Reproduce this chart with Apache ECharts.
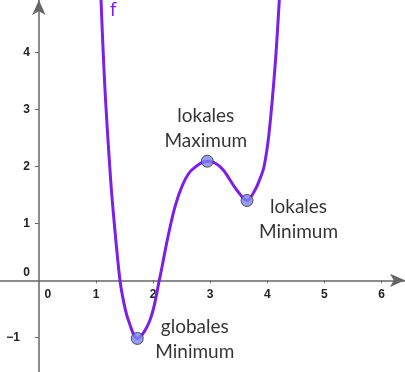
<!DOCTYPE html>
<html>
<head>
<meta charset="utf-8">
<style>html,body{margin:0;padding:0;background:#fff;}#c{width:405px;height:372px;}</style>
<script src="https://cdn.jsdelivr.net/npm/echarts@6/dist/echarts.min.js"></script>
</head>
<body>
<div id="c"></div>
<script>
// Curve f
const curveX = [1.088, 1.158, 1.257, 1.315, 1.420, 1.490, 1.566, 1.723, 1.946, 2.109, 2.249, 2.384, 2.529, 2.676, 2.949, 3.084, 3.229, 3.464, 3.645, 3.785, 3.863, 3.942, 4.030, 4.135, 4.210];
const curveY = [4.918, 3.339, 1.760, 1.058, 0.000, -0.404, -0.696, -1.020, -0.696, 0.000, 0.707, 1.291, 1.702, 1.935, 2.090, 2.058, 1.935, 1.584, 1.400, 1.584, 1.760, 1.993, 2.579, 3.747, 4.918];
// Extrema points
const pointNames = ['globales\nMinimum', 'lokales\nMaximum', 'lokales\nMinimum'];
const pointX = [1.723, 2.949, 3.645];
const pointY = [-1.020, 2.090, 1.400];
// Tick labels
const xTicks = [0, 1, 2, 3, 4, 5, 6];
const yTicks = [-1, 0, 1, 2, 3, 4];
const curveName = 'f';

const W = 405, H = 372;
const xMin = -0.681, xMax = 6.411, yMin = -1.609, yMax = 4.918;
const xAxisOffset = -(0 - yMin) / (yMax - yMin) * H;
const yAxisOffset = -(0 - xMin) / (xMax - xMin) * W;

const chart = echarts.init(document.getElementById('c'));
const purple = '#7d1fe6';
const axisColor = '#666';
const labelFont = {fontFamily: 'Liberation Sans', fontSize: 12, fontWeight: 'bold', color: '#222'};

const labelPos = [
  {position: [64, 7]},
  {position: [5, -26]},
  {position: [58, 25]}
];

chart.setOption({
  animation: false,
  grid: {left: 0, right: 0, top: 0, bottom: 0, containLabel: false, outerBoundsMode: 'none'},
  xAxis: {
    type: 'value', min: xMin, max: xMax, position: 'bottom', offset: xAxisOffset,
    axisLine: {onZero: false, lineStyle: {color: axisColor, width: 1.5}, symbol: ['none', 'arrow'], symbolSize: [10, 15]},
    axisTick: {show: true, customValues: xTicks.slice(1), length: 3, inside: false, lineStyle: {color: axisColor}},
    axisLabel: {
      customValues: xTicks, margin: 8, ...labelFont,
      formatter: v => v === 0 ? '{z|0}' : String(v),
      rich: {z: {...labelFont, padding: [0, 0, 0, 18]}}
    },
    splitLine: {show: false}
  },
  yAxis: {
    type: 'value', min: yMin, max: yMax, position: 'left', offset: yAxisOffset,
    axisLine: {onZero: false, lineStyle: {color: axisColor, width: 1.5}, symbol: ['none', 'arrow'], symbolSize: [10, 15]},
    axisTick: {show: true, customValues: yTicks.filter(v => v !== 0), length: 4, lineStyle: {color: axisColor}},
    axisLabel: {
      customValues: yTicks, margin: 9, ...labelFont,
      formatter: v => v === 0 ? '{z|0}' : (v < 0 ? '{n|\u2212' + Math.abs(v) + '}' : String(v)),
      rich: {z: {...labelFont, padding: [0, 0, 16, 0]}, n: {...labelFont, padding: [0, 10, 0, 0]}}
    },
    splitLine: {show: false}
  },
  series: [
    {
      type: 'line', name: curveName, smooth: 0.35, showSymbol: false, clip: true,
      lineStyle: {color: purple, width: 3},
      data: curveX.map((x, i) => [x, curveY[i]]),
      z: 2
    },
    {
      type: 'scatter', symbolSize: 12, z: 3,
      itemStyle: {color: '#7c82f4', borderColor: '#333', borderWidth: 1},
      label: {show: true, color: '#000', fontFamily: 'Lato', fontSize: 19, lineHeight: 25, align: 'center', verticalAlign: 'middle', formatter: p => p.name},
      data: pointX.map((x, i) => ({name: pointNames[i], value: [x, pointY[i]], label: labelPos[i]}))
    }
  ],
  graphic: [{
    type: 'text', left: 110, top: 2, z: 10,
    style: {text: curveName, fill: purple, fontFamily: 'DejaVu Sans', fontWeight: 'normal', fontSize: 18}
  }]
});
</script>
</body>
</html>
